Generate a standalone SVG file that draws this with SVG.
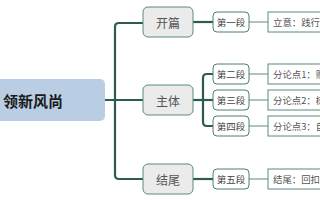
<svg xmlns="http://www.w3.org/2000/svg" width="320" height="200" viewBox="0 0 320 200">
<style>
.thick{fill:none;stroke:#2d5b51;stroke-width:2.2}
.thin{fill:none;stroke:#5b8a80;stroke-width:1}
.l1{fill:#ebebeb;stroke:#5b8a80;stroke-width:1}
.l2{fill:#ffffff;stroke:#4f7f73;stroke-width:1}
.l3{fill:#ffffff;stroke:#5b8a80;stroke-width:1}
.t1{font-family:"Noto Sans CJK SC","Noto Sans",sans-serif;font-size:12px;fill:#555555;text-anchor:middle;dominant-baseline:central}
.t2{font-family:"Noto Sans CJK SC","Noto Sans",sans-serif;font-size:9.5px;fill:#444444;text-anchor:middle;dominant-baseline:central}
.t3{font-family:"Noto Sans CJK SC","Noto Sans",sans-serif;font-size:9.4px;fill:#555555;dominant-baseline:central}
</style>
<rect width="320" height="200" fill="#ffffff"/>
<g id="connectors">
<path class="thick" d="M105,100 H143"/>
<path class="thick" d="M143,23 H119 Q115,23 115,27 V175 Q115,179 119,179 H143"/>
<path class="thick" d="M193,22 H213"/>
<path class="thick" d="M193,100 H213"/>
<path class="thick" d="M213,74 H207 Q203,74 203,78 V122 Q203,126 207,126 H213"/>
<path class="thick" d="M193,179 H213"/>
<path class="thin" d="M249,22 H268"/>
<path class="thin" d="M249,74 H268"/>
<path class="thin" d="M249,100 H268"/>
<path class="thin" d="M249,126 H268"/>
<path class="thin" d="M249,179 H268"/>
</g>
<g id="root">
<rect x="-20" y="79" width="125" height="42" rx="5" fill="#b9cde4"/>
<text x="3" y="100" font-family="'Noto Sans CJK SC','Noto Sans',sans-serif" font-size="15px" font-weight="bold" fill="#1a1a1a" dominant-baseline="central">领新风尚</text>
</g>
<g id="kaipian">
<rect class="l1" x="143" y="7" width="50" height="30" rx="5"/>
<text class="t1" x="168" y="22">开篇</text>
</g>
<g id="zhuti">
<rect class="l1" x="143" y="85" width="50" height="30" rx="5"/>
<text class="t1" x="168" y="100">主体</text>
</g>
<g id="jiewei">
<rect class="l1" x="143" y="164" width="50" height="30" rx="5"/>
<text class="t1" x="168" y="179">结尾</text>
</g>
<g id="duan1">
<rect class="l2" x="213" y="12" width="36" height="20" rx="4"/>
<text class="t2" x="231" y="22">第一段</text>
</g>
<g id="duan2">
<rect class="l2" x="213" y="64" width="36" height="20" rx="4"/>
<text class="t2" x="231" y="74">第二段</text>
</g>
<g id="duan3">
<rect class="l2" x="213" y="90" width="36" height="20" rx="4"/>
<text class="t2" x="231" y="100">第三段</text>
</g>
<g id="duan4">
<rect class="l2" x="213" y="116" width="36" height="20" rx="4"/>
<text class="t2" x="231" y="126">第四段</text>
</g>
<g id="duan5">
<rect class="l2" x="213" y="169" width="36" height="20" rx="4"/>
<text class="t2" x="231" y="179">第五段</text>
</g>
<g id="text1">
<rect class="l3" x="268" y="12" width="70" height="20"/>
<text class="t3" x="273" y="22">立意：践行</text>
</g>
<g id="text2">
<rect class="l3" x="268" y="64" width="70" height="20"/>
<text class="t3" x="273" y="74">分论点1：购</text>
</g>
<g id="text3">
<rect class="l3" x="268" y="90" width="70" height="20"/>
<text class="t3" x="273" y="100">分论点2：树</text>
</g>
<g id="text4">
<rect class="l3" x="268" y="116" width="70" height="20"/>
<text class="t3" x="273" y="126">分论点3：自</text>
</g>
<g id="text5">
<rect class="l3" x="268" y="169" width="70" height="20"/>
<text class="t3" x="273" y="179">结尾：回扣主</text>
</g>
</svg>
